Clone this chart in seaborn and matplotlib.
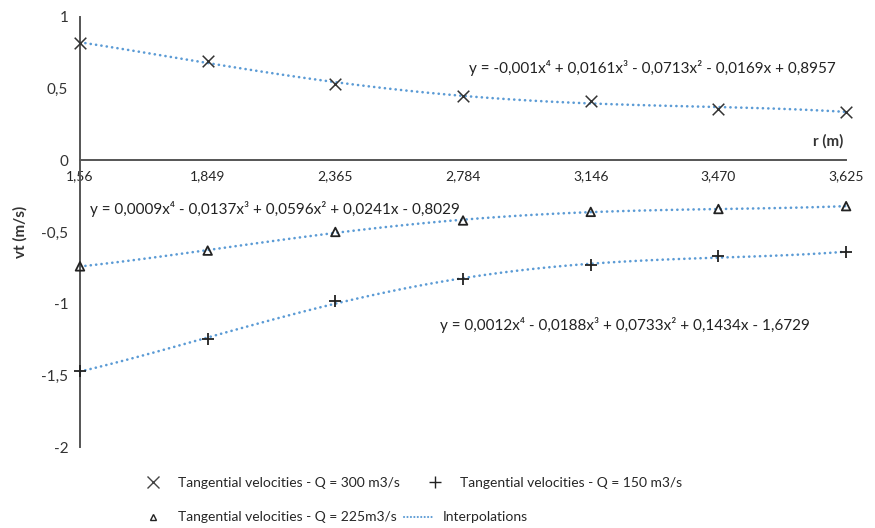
import numpy as np
import pandas as pd
import matplotlib
matplotlib.use('Agg')
import matplotlib.pyplot as plt
from matplotlib.lines import Line2D
import seaborn as sns

# datos
r_labels = ['1,56', '1,849', '2,365', '2,784', '3,146', '3,470', '3,625']
r_pos = [1, 2, 3, 4, 5, 6, 7]
vt_300 = [0.82, 0.69, 0.53, 0.45, 0.41, 0.36, 0.34]
vt_225 = [-0.74, -0.63, -0.50, -0.42, -0.36, -0.34, -0.32]
vt_150 = [-1.47, -1.25, -0.98, -0.83, -0.73, -0.67, -0.64]
y_ticks = [-2, -1.5, -1, -0.5, 0, 0.5, 1]
y_labels = ['-2', '-1,5', '-1', '-0,5', '0', '0,5', '1']
eq_300 = 'y = -0,001x⁴ + 0,0161x³ - 0,0713x² - 0,0169x + 0,8957'
eq_225 = 'y = 0,0009x⁴ - 0,0137x³ + 0,0596x² + 0,0241x - 0,8029'
eq_150 = 'y = 0,0012x⁴ - 0,0188x³ + 0,0733x² + 0,1434x - 1,6729'

df = pd.DataFrame({'r': r_pos, 'q300': vt_300, 'q225': vt_225, 'q150': vt_150})

sns.set_style('white')
plt.rcParams['font.family'] = ['Lato', 'DejaVu Sans']

fig = plt.figure(figsize=(8.75, 5.28), dpi=100)
ax = fig.add_axes([0.0914, 0.1534, 0.8756, 0.8146])

line_color = '#5b9bd5'
line_kws = dict(color=line_color, linestyle=(0, (0.05, 2.0)), linewidth=1.9,
                dash_capstyle='round', clip_on=False)

# líneas de tendencia (polinomio de orden 4)
for col in ['q300', 'q225', 'q150']:
    sns.regplot(data=df, x='r', y=col, order=4, ci=None, scatter=False,
                truncate=True, line_kws=line_kws, ax=ax)

# puntos
sns.scatterplot(data=df, x='r', y='q300', marker='x', color='#333333', s=70,
                linewidth=1.1, ax=ax, zorder=5, clip_on=False)
sns.scatterplot(data=df, x='r', y='q150', marker='+', color='#222222', s=80,
                linewidth=1.3, ax=ax, zorder=5, clip_on=False)
ax.scatter(df['r'], df['q225'], marker='^', facecolor='none', edgecolor='#222222',
           s=38, linewidth=1.3, zorder=5, clip_on=False)

ax.set_xlim(1, 7)
ax.set_ylim(-2, 1)
ax.set_xticks(r_pos)
ax.set_xticklabels(r_labels, fontsize=11, color='#333333')
ax.set_yticks(y_ticks)
ax.set_yticklabels(y_labels, fontsize=11, color='#333333')
ax.set_xlabel('')
ax.set_ylabel('vt (m/s)', fontsize=11, fontweight='bold', color='#333333', labelpad=10)

ax.spines['top'].set_visible(False)
ax.spines['right'].set_visible(False)
ax.spines['bottom'].set_position(('data', 0))
for sp in ['left', 'bottom']:
    ax.spines[sp].set_color('#555555')
    ax.spines[sp].set_linewidth(1.4)
ax.tick_params(axis='both', direction='out', length=5, width=1.2, color='#555555')
ax.tick_params(axis='x', pad=2)

ax.text(6.98, 0.08, 'r (m)', fontsize=11, fontweight='bold', ha='right', va='bottom',
        color='#333333')

ax.text(4.05, 0.645, eq_300, fontsize=11, va='center', color='#222222')
ax.text(1.08, -0.343, eq_225, fontsize=11, va='center', color='#222222')
ax.text(3.82, -1.147, eq_150, fontsize=11, va='center', color='#222222')

# leyenda en dos filas
h300 = Line2D([], [], marker='x', color='#444444', linestyle='none', markersize=8)
h150 = Line2D([], [], marker='+', color='#222222', linestyle='none', markersize=9)
h225 = Line2D([], [], marker='^', markerfacecolor='none', markeredgecolor='#222222',
              linestyle='none', markersize=5)
hint = Line2D([], [], color=line_color, linestyle=(0, (0.05, 1.6)), linewidth=1.5,
              dash_capstyle='round')

fig.legend([h300, h150], ['Tangential velocities - Q = 300 m3/s',
                          'Tangential velocities - Q = 150 m3/s'],
           loc='center left', bbox_to_anchor=(0.145, 0.085), ncol=2, frameon=False,
           fontsize=10, handlelength=2.0, columnspacing=1.5, handletextpad=0.8)
fig.legend([h225, hint], ['Tangential velocities - Q = 225m3/s', 'Interpolations'],
           loc='center left', bbox_to_anchor=(0.145, 0.02), ncol=2, frameon=False,
           fontsize=10, handlelength=2.0, columnspacing=0.5, handletextpad=0.8)

fig.savefig('out.png', dpi=100)
